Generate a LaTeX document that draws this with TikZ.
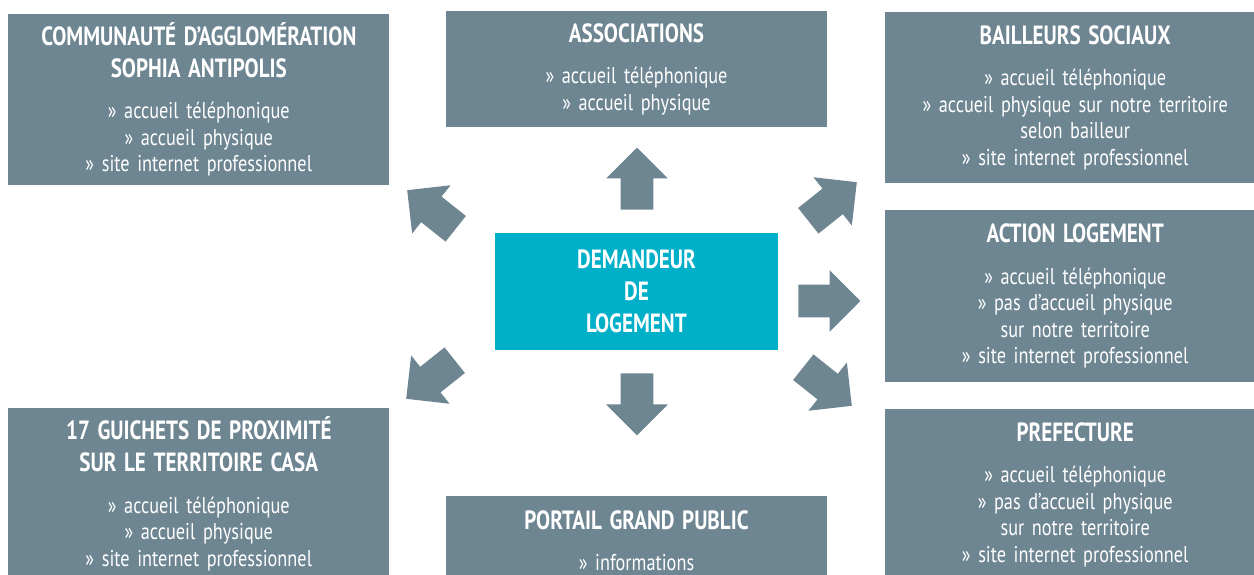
\documentclass[tikz,border=0pt]{standalone}
\usepackage{fontspec}
\setmainfont{PT Sans}[FakeStretch=0.8, WordSpace=0.8]
\usetikzlibrary{shapes.arrows, positioning}

\definecolor{slateGrey}{RGB}{110,133,146}
\definecolor{demandCyan}{RGB}{0,175,200}

\newcommand{\bodyfont}{\fontsize{13}{15.1}\selectfont}
\newcommand{\titlefont}{\fontsize{15}{18.2}\selectfont\bfseries}
\newcommand{\boxtitle}[1]{{\titlefont #1\par}\vspace{8.5pt}}

\tikzstyle{slateBox} = [rectangle, minimum width=7.62cm, text width=7.2cm, text centered, inner sep=0pt,
fill=slateGrey, text=white, font=\bodyfont]
\tikzstyle{demandBox} = [rectangle, minimum width=5.66cm, minimum height=2.34cm, text width=5cm, text centered,
inner sep=0pt, fill=demandCyan, text=white, font=\titlefont]
\tikzstyle{blockArrow} = [single arrow, minimum height=1.24cm, minimum width=1.22cm, single arrow head extend=0.29cm,
single arrow head indent=0cm, inner sep=0pt, inner ysep=0.32cm, fill=slateGrey, anchor=tail]

\begin{document}
\begin{tikzpicture}
    \useasboundingbox (0,0) rectangle (25.08,-11.5);

    \node (demandeur) [demandBox] at (12.73,-5.83) {DEMANDEUR\\DE\\LOGEMENT};
    \node (associations) [slateBox, minimum height=2.32cm, above=2.1cm of demandeur]
    {\boxtitle{ASSOCIATIONS}» accueil téléphonique\\» accueil physique};
    \node (portail) [slateBox, minimum height=1.8cm, below=2.9cm of demandeur]
    {\boxtitle{PORTAIL GRAND PUBLIC}» informations};
    \node (casa) [slateBox, minimum height=3.42cm, left=2.1cm of demandeur, yshift=3.84cm]
    {\boxtitle{COMMUNAUTÉ D’AGGLOMÉRATION\\SOPHIA ANTIPOLIS}» accueil téléphonique\\» accueil physique\\» site internet professionnel};
    \node (guichets) [slateBox, minimum height=3.44cm, left=2.1cm of demandeur, yshift=-4.05cm]
    {\boxtitle{17 GUICHETS DE PROXIMITÉ\\SUR LE TERRITOIRE CASA}» accueil téléphonique\\» accueil physique\\» site internet professionnel};
    \node (action) [slateBox, minimum height=3.44cm, right=2.12cm of demandeur, yshift=-0.09cm]
    {\boxtitle{ACTION LOGEMENT}» accueil téléphonique\\» pas d’accueil physique\\sur notre territoire\\» site internet professionnel};
    \node (bailleurs) [slateBox, minimum height=3.42cm, above=0.52cm of action]
    {\boxtitle{BAILLEURS SOCIAUX}» accueil téléphonique\\» accueil physique sur notre territoire\\selon bailleur\\» site internet professionnel};
    \node (prefecture) [slateBox, minimum height=3.44cm, below=0.52cm of action]
    {\boxtitle{PREFECTURE}» accueil téléphonique\\» pas d’accueil physique\\sur notre territoire\\» site internet professionnel};

    % block arrows around the centre box, placed by their tails
    \node (toAssociations) [blockArrow, rotate=90] at (12.74,-4.20) {};
    \node (toPortail) [blockArrow, rotate=-90] at (12.74,-7.46) {};
    \node (toAction) [blockArrow] at (15.96,-6.02) {};
    \node (toCasa) [blockArrow, rotate=141.5] at (9.12,-4.58) {};
    \node (toBailleurs) [blockArrow, rotate=38.5] at (16.16,-4.42) {};
    \node (toGuichets) [blockArrow, rotate=-141.5] at (9.10,-7.20) {};
    \node (toPrefecture) [blockArrow, rotate=-38.5] at (16.06,-7.34) {};

\end{tikzpicture}
\end{document}
